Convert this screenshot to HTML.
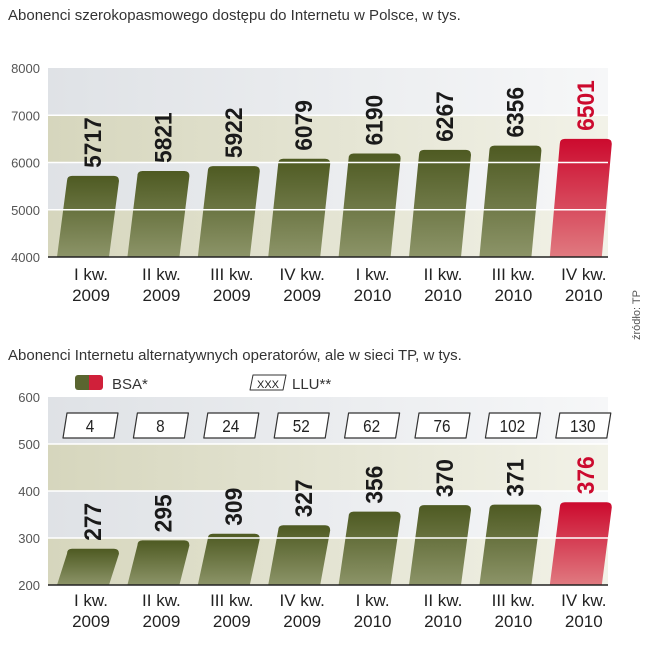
<!DOCTYPE html>
<html><head><meta charset="utf-8"><style>
body{margin:0;background:#fff;width:649px;height:640px;overflow:hidden;font-family:"Liberation Sans",sans-serif}
</style></head><body>
<svg id="s" width="649" height="640" xmlns="http://www.w3.org/2000/svg">
<defs>
<linearGradient id="gO" x1="0" y1="0" x2="0" y2="1"><stop offset="0" stop-color="#4e5a22"/><stop offset="1" stop-color="#8c9468"/></linearGradient>
<linearGradient id="gR" x1="0" y1="0" x2="0" y2="1"><stop offset="0" stop-color="#cc0a2e"/><stop offset="1" stop-color="#e07a80"/></linearGradient>
<linearGradient id="bg1" x1="0" y1="0" x2="1" y2="0"><stop offset="0" stop-color="#dfe2e6"/><stop offset="1" stop-color="#f6f7f8"/></linearGradient>
<linearGradient id="bg2" x1="0" y1="0" x2="1" y2="0"><stop offset="0" stop-color="#d6d6bd"/><stop offset="1" stop-color="#f2f2e8"/></linearGradient>
<linearGradient id="lg" x1="0" y1="0" x2="1" y2="0"><stop offset="0.5" stop-color="#5a6530"/><stop offset="0.5" stop-color="#d0203a"/></linearGradient>
</defs>
<text x="8" y="20" font-size="15" fill="#333">Abonenci szerokopasmowego dostępu do Internetu w Polsce, w tys.</text>
<text x="8" y="360" font-size="15" fill="#333">Abonenci Internetu alternatywnych operatorów, ale w sieci TP, w tys.</text>
<text transform="translate(640,340) rotate(-90)" font-size="11" fill="#555">źródło: TP</text>
<g>
<rect x="75" y="375" width="28" height="15" rx="3" fill="url(#lg)"/>
<text x="112" y="389" font-size="15" fill="#333">BSA*</text>
<path d="M253 375 H286 L283 390 H250 Z" fill="#fff" stroke="#333" stroke-linejoin="round"/>
<text x="268" y="388" font-size="11" text-anchor="middle" fill="#222">XXX</text>
<text x="292" y="389" font-size="15" fill="#333">LLU**</text>
</g>
<text x="58" y="470" font-size="12" fill="#444">* bez Orange</text>
<text x="168" y="470" font-size="12" fill="#444">** głównie Netia</text>
</svg>
<script>
const categories1=["I kw.|2009","II kw.|2009","III kw.|2009","IV kw.|2009","I kw.|2010","II kw.|2010","III kw.|2010","IV kw.|2010"];
const values1=[5717,5821,5922,6079,6190,6267,6356,6501];
const ticks1=[4000,5000,6000,7000,8000];
const values2=[277,295,309,327,356,370,371,376];
const llu2=[4,8,24,52,62,76,102,130];
const ticks2=[200,300,400,500,600];
const NS="http://www.w3.org/2000/svg",svg=document.getElementById('s');
function mk(t,a,p){const e=document.createElementNS(NS,t);for(const k in a)e.setAttribute(k,a[k]);(p||svg).appendChild(e);return e;}
function chart(id,vals,ticks,yTop,yBot,labY,llu){
  const g=mk('g',{});
  
  
  const mn=ticks[0],mx=ticks[ticks.length-1];
  const y=v=>yBot-(v-mn)/(mx-mn)*(yBot-yTop);
  const x=i=>83+i*70.4;
  for(let k=0;k<ticks.length-1;k++){
    mk('rect',{x:48,y:y(ticks[k+1]),width:560,height:y(ticks[k])-y(ticks[k+1]),fill:k%2==0?'url(#bg2)':'url(#bg1)'},g);
  }
  ticks.forEach(t=>{const tx=mk('text',{x:40,y:y(t)+5,'font-size':13,'text-anchor':'end',fill:'#555'},g);tx.textContent=t;
    
    });
  vals.forEach((v,i)=>{
    const c=x(i),w=52,top=y(v),last=i==vals.length-1;
    const p=mk('path',{d:`M${c-w/2} ${yBot} L${c-w/2+10} ${top+5} Q${c-w/2+10} ${top} ${c-w/2+15} ${top} L${c+w/2+5} ${top} Q${c+w/2+10} ${top} ${c+w/2+10} ${top+5} L${c+w/2} ${yBot} Z`,fill:last?'url(#gR)':'url(#gO)'},g);
    
    
  });
  ticks.slice(1,-1).forEach(t=>mk('line',{x1:48,x2:608,y1:y(t),y2:y(t),stroke:'#fff','stroke-width':1.5},g));
  mk('line',{x1:48,x2:608,y1:yBot,y2:yBot,stroke:'#222','stroke-width':1.5},g);
  vals.forEach((v,i)=>{
    const c=x(i),top=y(v),last=i==vals.length-1;
    const t=mk('text',{transform:`translate(${c+18},${top-8}) rotate(-90) scale(0.95,1)`,'font-size':24,'font-weight':'bold',fill:last?'#cc0a2e':'#1a1a1a'},g);
    t.textContent=v;
    
    
    const [a,b]=categories1[i].split('|');
    const l1=mk('text',{x:c+8,y:labY,'font-size':17,'text-anchor':'middle',fill:'#222'},g);l1.textContent=a;
    
    
    const l2=mk('text',{x:c+8,y:labY+21,'font-size':17,'text-anchor':'middle',fill:'#222'},g);l2.textContent=b;
    
    
    if(llu){
      const bx=mk('path',{d:`M${c-16} 413 H${c+35} L${c+31} 438 H${c-20} Z`,fill:'#fff',stroke:'#333','stroke-width':1.2,'stroke-linejoin':'round'},g);
      
      
      const lt=mk('text',{x:c+7,y:432,'font-size':18,'text-anchor':'middle',fill:'#222',transform:`translate(${(c+7)*0.15},0) scale(0.85,1)`},g);lt.textContent=llu[i];
      
      
    }
  });
}
chart('chart-broadband',values1,ticks1,68,257,280,null);
chart('chart-alternative',values2,ticks2,397,585,606,llu2);
</script>
</body></html>
